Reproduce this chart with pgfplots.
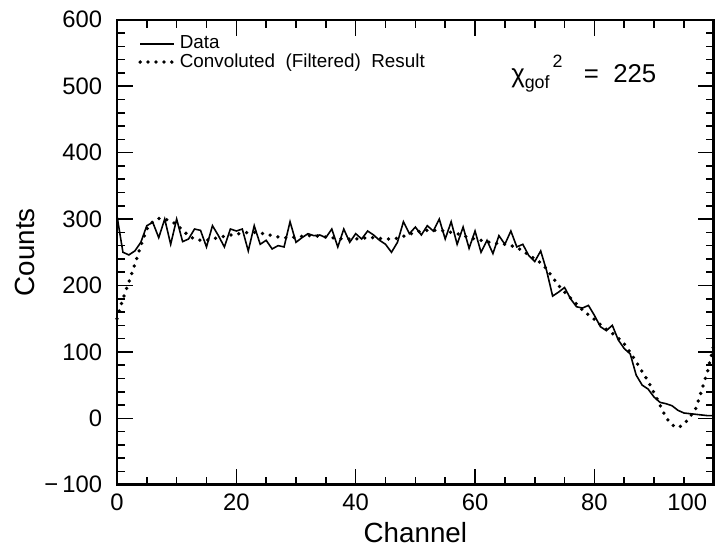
\documentclass[border=0pt]{standalone}
\usepackage{pgfplots}
\pgfplotsset{compat=1.18}
\usepackage{fontspec}
\setmainfont{Liberation Sans}
\begin{document}
\begin{tikzpicture}
\begin{axis}[
  scale only axis, width=301pt, height=234.5pt,
  xmin=0, xmax=100, ymin=-100, ymax=600,
  xtick={0,20,...,100}, minor x tick num=3,
  xticklabels={0,20,40,60,80,{\makebox[0pt][r]{100}\hphantom{0}}},
  ytick={-100,0,...,600}, minor y tick num=4,
  yticklabels={{\char"2212\,100},0,100,200,300,400,500,600},
  /pgf/number format/assume math mode=true,
  tick label style={font=\fontsize{12}{14}\selectfont},
  yticklabel style={xshift=-4pt},
  xticklabel style={yshift=-1pt},
  major tick length=8pt, minor tick length=4pt,
  every tick/.style={black, line width=0.8pt},
  axis line style={line width=1.3pt},
  xlabel={Channel}, ylabel={Counts},
  every axis y label/.style={at={(axis description cs:-0.155,0.5)}, rotate=90, anchor=center, font=\fontsize{14}{16}\selectfont},
  every axis x label/.style={at={(axis description cs:0.5,-0.102)}, anchor=center, font=\fontsize{14}{16}\selectfont},
  clip=false,
  legend cell align=left,
  legend style={draw=none, fill=none, at={(0.035,0.975)}, anchor=north west,
    font=\fontsize{9.5}{10}\selectfont, row sep=-3pt, inner sep=0pt,
    /tikz/every even column/.append style={column sep=1pt}},
]
\addplot[black, line width=0.8pt] coordinates {
(0,305) (1,250) (2,246) (3,252) (4,265) (5,290) (6,295) (7,272) (8,300) (9,262)
(10,300) (11,266) (12,270) (13,285) (14,283) (15,258) (16,290) (17,275) (18,258) (19,285)
(20,282) (21,285) (22,252) (23,290) (24,262) (25,268) (26,255) (27,260) (28,258) (29,296)
(30,265) (31,272) (32,278) (33,275) (34,276) (35,272) (36,285) (37,258) (38,285) (39,265)
(40,278) (41,270) (42,282) (43,276) (44,268) (45,262) (46,250) (47,265) (48,296) (49,278)
(50,288) (51,276) (52,290) (53,282) (54,300) (55,270) (56,296) (57,262) (58,288) (59,256)
(60,282) (61,250) (62,268) (63,248) (64,275) (65,262) (66,282) (67,258) (68,262) (69,245)
(70,236) (71,252) (72,222) (73,184) (74,190) (75,197) (76,180) (77,168) (78,166) (79,170)
(80,155) (81,138) (82,132) (83,140) (84,118) (85,105) (86,97) (87,65) (88,50) (89,44)
(90,32) (91,24) (92,22) (93,19) (94,12) (95,8) (96,7) (97,6) (98,5) (99,4) (100,4)
};
\addlegendentry{Data}
\addplot[black, line width=1.9pt, line cap=round, dash pattern=on 0pt off 4pt] coordinates {
(0,150) (1,180) (2,205) (3,232) (4,260) (5,285) (6,296) (7,301) (8,300) (9,297)
(10,292) (11,283) (12,275) (13,270) (14,268) (15,268) (16,270) (17,272) (18,274) (19,276)
(20,277) (21,279) (22,280) (23,280) (24,279) (25,277) (26,275) (27,273) (28,272) (29,272)
(30,273) (31,274) (32,275) (33,275) (34,274) (35,273) (36,272) (37,271) (38,270) (39,270)
(40,270) (41,271) (42,272) (43,272) (44,271) (45,270) (46,270) (47,271) (48,274) (49,277)
(50,280) (51,282) (52,283) (53,283) (54,283) (55,282) (56,280) (57,278) (58,275) (59,272)
(60,270) (61,268) (62,266) (63,264) (64,263) (65,262) (66,260) (67,257) (68,252) (69,246)
(70,240) (71,234) (72,225) (73,212) (74,200) (75,190) (76,181) (77,172) (78,163) (79,156)
(80,149) (81,141) (82,134) (83,128) (84,121) (85,112) (86,99) (87,85) (88,70) (89,56)
(90,38) (91,20) (92,1) (93,-10) (94,-14) (95,-9) (96,2) (97,15) (98,43) (99,72) (100,110)
};
\addlegendentry{Convoluted\ \ (Filtered)\ \ Result}
\node[anchor=base west, font=\fontsize{13}{15}\selectfont, inner sep=0pt] at (axis cs:66,505)
  {χ\raisebox{-0.4ex}{\fontsize{9}{10}\selectfont gof}\raisebox{1.1ex}{\fontsize{9}{10}\selectfont\,2}\ \ \ =\ \ 225};
\path (rel axis cs:-0.196,-0.1343) (rel axis cs:1.0116,1.0426);
\end{axis}
\end{tikzpicture}
\end{document}
